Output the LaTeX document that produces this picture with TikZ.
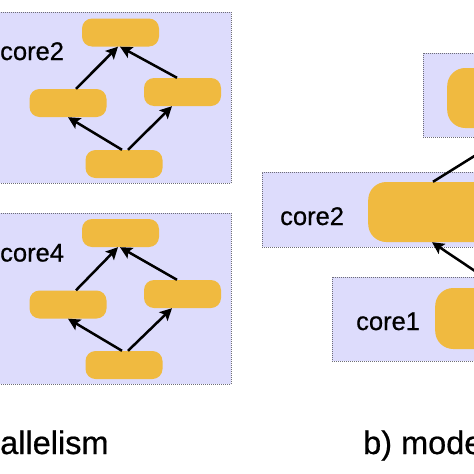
\documentclass[tikz,border=0pt]{standalone}
\usepackage{fontspec}
\setmainfont{Liberation Sans}[FakeBold=0.6]
\newfontfamily\medfont{Liberation Sans}[FakeBold=0.6]
\usetikzlibrary{arrows.meta}
\definecolor{boxfill}{RGB}{221,220,252}
\definecolor{nodefill}{RGB}{240,186,64}
\definecolor{boxline}{RGB}{110,110,120}
\begin{document}
\begin{tikzpicture}[x=1pt,y=-1pt,
 corebox/.style={fill=boxfill,draw=boxline,line width=0.8pt,dash pattern=on 1pt off 1pt,anchor=north west,inner sep=0pt},
 task/.style={fill=nodefill,rounded corners=10pt,minimum width=77pt,minimum height=28pt,inner sep=0pt},
 bigtask/.style={fill=nodefill,rounded corners=18pt,minimum width=200pt,minimum height=60pt,inner sep=0pt,anchor=west},
 arr/.style={line width=2.5pt,-{Stealth[length=12pt,width=12pt,inset=2.5pt]}},
 lbl/.style={inner sep=0pt,anchor=base west,font=\medfont\fontsize{25.5}{25.5}\selectfont},
 capt/.style={inner sep=0pt,anchor=base west,font=\medfont\fontsize{32.5}{32.5}\selectfont}]
\useasboundingbox (0,0) rectangle (474,474);
\clip (0,0) rectangle (474,474);
\fill[white] (0,0) rectangle (474,474);
% ---- a) left boxes
\node[corebox,minimum width=236pt,minimum height=171pt] (boxA) at (-5,12) {};
\node[lbl] (labA) at (0,60) {core2};
\node[task] (a1) at (120.5,32.5) {};
\node[task] (a2) at (68,103) {};
\node[task] (a3) at (182.5,92) {};
\node[task] (a4) at (124,164) {};
\draw[arr] ([xshift=8pt]a2.north) -- ([xshift=-2.5pt]a1.south);
\draw[arr] ([xshift=-5.5pt]a3.north) -- ([xshift=-0.5pt]a1.south);
\draw[arr] ([xshift=-2pt]a4.north) -- (a2.south);
\draw[arr] ([xshift=4pt]a4.north) -- ([xshift=-10.5pt]a3.south);

\node[corebox,minimum width=236pt,minimum height=171pt] (boxB) at (-5,213) {};
\node[lbl] (labB) at (0,261.5) {core4};
\node[task] (b1) at (120.5,233) {};
\node[task] (b2) at (68,304.5) {};
\node[task] (b3) at (182.5,294) {};
\node[task] (b4) at (124,365) {};
\draw[arr] ([xshift=8pt]b2.north) -- ([xshift=-2.5pt]b1.south);
\draw[arr] ([xshift=-5.5pt]b3.north) -- ([xshift=-0.5pt]b1.south);
\draw[arr] ([xshift=-2pt]b4.north) -- (b2.south);
\draw[arr] ([xshift=4pt]b4.north) -- ([xshift=-10.5pt]b3.south);

% ---- b) right side
\node[corebox,minimum width=120pt,minimum height=84pt] (boxT) at (423,53) {};
\node[corebox,minimum width=280pt,minimum height=75pt] (boxM) at (262,172) {};
\node[corebox,minimum width=210pt,minimum height=84pt] (boxL) at (332,277) {};
\node[bigtask] (t1) at (447,98) {};
\node[bigtask] (m1) at (368,212) {};
\node[bigtask,minimum height=61pt] (l1) at (435,318.5) {};
\node[lbl] (labM) at (280,225) {core2};
\node[lbl] (labL) at (356,330) {core1};
\draw[arr] ([xshift=65pt]m1.north west) -- ([xshift=72pt]t1.south west);
\draw[arr] ([xshift=65pt]l1.north west) -- ([xshift=64pt]m1.south west);

% ---- captions
\node[capt] (capA) at (0,454) {allelism};
\node[capt] (capB) at (363,454) {b) mode};
\end{tikzpicture}
\end{document}
